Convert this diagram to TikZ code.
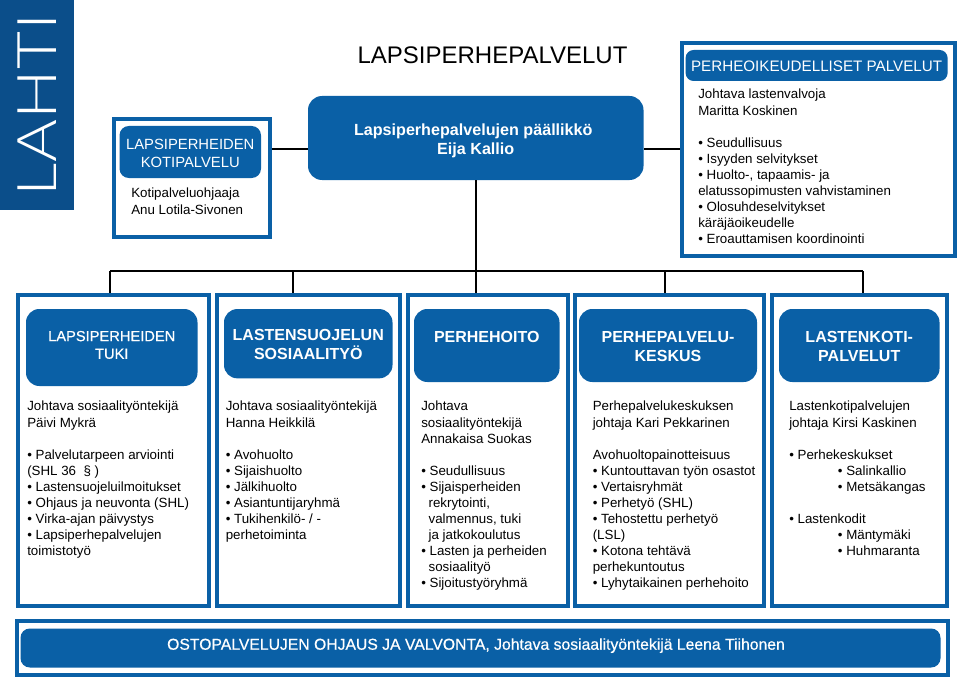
\documentclass[tikz,border=0pt]{standalone}
\usepackage{fontspec}
\setmainfont{Liberation Sans}
\newfontfamily\logofont[FakeStretch=1.2,LetterSpace=1]{Lato Light}
\usepackage{xcolor}
\usetikzlibrary{positioning}
\definecolor{lahtiblue}{HTML}{0A60A6}
\definecolor{logoblue}{HTML}{0B4E8A}
\tikzset{
  dims/.style 2 args={minimum width=#1*0.75pt,minimum height=#2*0.75pt},
  frame/.style={rectangle,draw=lahtiblue,line width=3pt,fill=white},
  headbox/.style={rectangle,fill=lahtiblue,rounded corners=7pt,align=center,text=white,inner sep=0pt,font=\fontsize{11.1pt}{13.2pt}\selectfont},
  boldbox/.style={headbox,font=\fontsize{12pt}{14.1pt}\selectfont\bfseries},
  bodytext/.style={anchor=north west,align=left,inner sep=0pt,font=\fontsize{10pt}{12.07pt}\selectfont},
  link/.style={draw=black,line width=1.5pt}
}
\begin{document}
\begin{tikzpicture}[x=0.75pt,y=-0.75pt]
	\useasboundingbox (0,0) rectangle (959,681);

	\node[fill=logoblue,inner sep=0pt,dims={73.5}{210}] (logo) at (36.75,105) {};
	\node[rotate=90,text=white,font=\logofont\fontsize{41pt}{41pt}\selectfont,inner sep=0pt] (lahti) at (logo) {LAHTI};

	\node[font=\fontsize{18pt}{20pt}\selectfont,inner sep=0pt] (title) at (492.5,55) {LAPSIPERHEPALVELUT};

	\node[frame,line width=2.8pt,dims={156}{118}] (kotiframe) at (192,178) {};
	\node[headbox,dims={141.5}{52}] (koti) at (190.25,152) {\rule{0pt}{9.8pt}LAPSIPERHEIDEN\\KOTIPALVELU};
	\node[bodytext] (kotitext) at (131,188) {Kotipalveluohjaaja\\Anu Lotila-Sivonen};

	\node[boldbox,rounded corners=10.5pt,dims={335.5}{84},font=\fontsize{12.1pt}{14.2pt}\selectfont\bfseries] (chief) at (475.75,138) {\rule{0pt}{13.2pt}Lapsiperhepalvelujen päällikkö\hspace*{3.75pt}\\Eija Kallio};

	\node[frame,dims={273}{213}] (oikeusframe) at (818.5,149.5) {};
	\node[headbox,dims={262}{31},rounded corners=6pt,font=\fontsize{11.4pt}{13.2pt}\selectfont] (oikeus) at (816.6,65.5) {\rule{0pt}{9.6pt}PERHEOIKEUDELLISET PALVELUT};
	\node[bodytext] (oikeustext) at (698,89) {Johtava lastenvalvoja\\Maritta Koskinen\\[12.07pt]
		• Seudullisuus\\• Isyyden selvitykset\\• Huolto-, tapaamis- ja\\elatussopimusten vahvistaminen\\• Olosuhdeselvitykset\\käräjäoikeudelle\\• Eroauttamisen koordinointi};

	\coordinate (rowlink) at (475.75,149);
	\coordinate (bus) at (475.75,271);
	\draw[link] (kotiframe.east |- rowlink) -- (chief.west |- rowlink);
	\draw[link] (chief.east |- rowlink) -- (oikeusframe.west |- rowlink);
	\draw[link] (chief.south) -- (bus);

	\node[frame,dims={190.7}{311.5}] (tukiframe) at (113.35,450.25) {};
	\node[frame,dims={182.7}{311.5}] (sosframe) at (308.35,450.25) {};
	\node[frame,dims={160.5}{311.5}] (hoitoframe) at (487.75,450.25) {};
	\node[frame,dims={189.4}{311.5}] (keskusframe) at (669.3,450.25) {};
	\node[frame,dims={175}{311.5}] (kotiframeb) at (859.5,450.25) {};

	\foreach \name/\xpos in {tuki/110,sos/293,hoito/475.5,keskus/665,kotib/862.6} {
		\coordinate (bus\name) at (\xpos,271);
	}
	\draw[link] (bustuki) -- (buskotib);
	\draw[link] (bustuki) -- (bustuki |- tukiframe.north);
	\draw[link] (bussos) -- (bussos |- sosframe.north);
	\draw[link] (bushoito) -- (bushoito |- hoitoframe.north);
	\draw[link] (buskeskus) -- (buskeskus |- keskusframe.north);
	\draw[link] (buskotib) -- (buskotib |- kotiframeb.north);

	\node[headbox,dims={171.5}{77},rounded corners=10pt,font=\fontsize{11pt}{13.2pt}\selectfont\addfontfeatures{FakeBold=0.6}] (tuki) at (111.75,347.5) {LAPSIPERHEIDEN\\TUKI\rule[-4pt]{0pt}{4pt}};
	\node[boldbox,dims={168.5}{69.3},rounded corners=10pt] (sos) at (308.25,343.7) {\rule{0pt}{10.1pt}LASTENSUOJELUN\\SOSIAALITYÖ};
	\node[boldbox,dims={145.5}{73},rounded corners=10pt] (hoito) at (486.75,345.5) {\rule{0pt}{10.1pt}PERHEHOITO\\~};
	\node[boldbox,dims={178}{73},rounded corners=10pt] (keskus) at (668,345.5) {\rule{0pt}{10.1pt}PERHEPALVELU-\\KESKUS};
	\node[boldbox,dims={160.5}{73},rounded corners=10pt] (kotib) at (859.25,345.5) {\rule{0pt}{10.1pt}LASTENKOTI-\\PALVELUT};

	\node[bodytext] (tukitext) at (27,401) {Johtava sosiaalityöntekijä\\Päivi Mykrä\\[12.07pt]
		• Palvelutarpeen arviointi\\(SHL 36 \ § )\\• Lastensuojeluilmoitukset\\• Ohjaus ja neuvonta (SHL)\\• Virka-ajan päivystys\\• Lapsiperhepalvelujen\\toimistotyö};
	\node[bodytext] (sostext) at (225.5,401) {Johtava sosiaalityöntekijä\\Hanna Heikkilä\\[12.07pt]
		• Avohuolto\\• Sijaishuolto\\• Jälkihuolto\\• Asiantuntijaryhmä\\• Tukihenkilö- / -\\perhetoiminta};
	\node[bodytext] (hoitotext) at (421,401) {Johtava\\sosiaalityöntekijä\\Annakaisa Suokas\\[12.07pt]
		• Seudullisuus\\• Sijaisperheiden\\\hspace*{5.5pt}rekrytointi,\\\hspace*{5.5pt}valmennus, tuki\\\hspace*{5.5pt}ja jatkokoulutus\\• Lasten ja perheiden\\\hspace*{5.5pt}sosiaalityö\\• Sijoitustyöryhmä};
	\node[bodytext] (keskustext) at (592.5,401) {Perhepalvelukeskuksen\\johtaja Kari Pekkarinen\\[12.07pt]
		Avohuoltopainotteisuus\\• Kuntouttavan työn osastot\\• Vertaisryhmät\\• Perhetyö (SHL)\\• Tehostettu perhetyö\\(LSL)\\• Kotona tehtävä\\perhekuntoutus\\• Lyhytaikainen perhehoito};
	\node[bodytext] (kotibtext) at (789,401) {Lastenkotipalvelujen\\johtaja Kirsi Kaskinen\\[12.07pt]
		• Perhekeskukset\\\hspace*{36.5pt}• Salinkallio\\\hspace*{36.5pt}• Metsäkangas\\[12.07pt]
		• Lastenkodit\\\hspace*{36.5pt}• Mäntymäki\\\hspace*{36.5pt}• Huhmaranta};

	\node[frame,dims={930.5}{53.2}] (ostoframe) at (482.25,648) {};
	\node[headbox,dims={920}{39},font=\fontsize{11.8pt}{14pt}\selectfont\addfontfeatures{FakeBold=0.6}] (osto) at (480.5,648) {OSTOPALVELUJEN OHJAUS JA VALVONTA, Johtava sosiaalityöntekijä Leena Tiihonen\hspace{6.75pt}\rule[-6pt]{0pt}{6pt}};

\end{tikzpicture}
\end{document}
